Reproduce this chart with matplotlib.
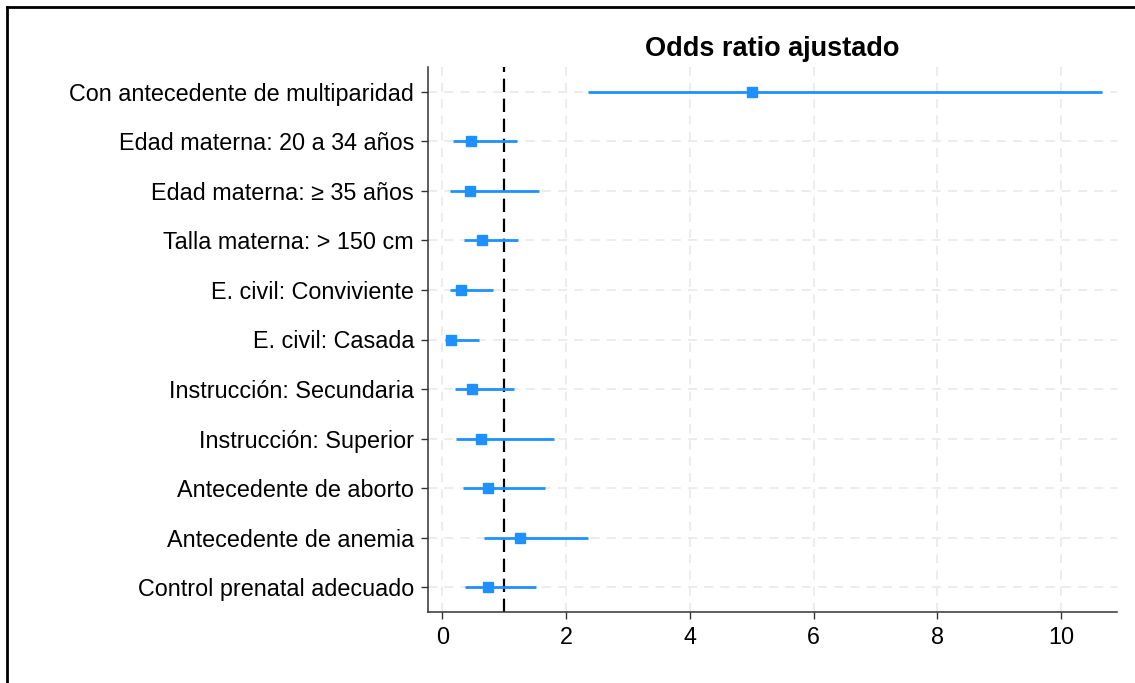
import matplotlib.pyplot as plt
from matplotlib.lines import Line2D

plt.rcParams['font.family'] = ['Liberation Sans', 'DejaVu Sans']

labels = [
    "Con antecedente de multiparidad",
    "Edad materna: 20 a 34 años",
    "Edad materna: ≥ 35 años",
    "Talla materna: > 150 cm",
    "E. civil: Conviviente",
    "E. civil: Casada",
    "Instrucción: Secundaria",
    "Instrucción: Superior",
    "Antecedente de aborto",
    "Antecedente de anemia",
    "Control prenatal adecuado",
]
odds = [5.01, 0.46, 0.45, 0.65, 0.31, 0.14, 0.48, 0.62, 0.74, 1.25, 0.74]
ci_low = [2.36, 0.18, 0.13, 0.35, 0.12, 0.05, 0.21, 0.22, 0.34, 0.67, 0.37]
ci_high = [10.66, 1.21, 1.56, 1.23, 0.82, 0.60, 1.16, 1.80, 1.66, 2.36, 1.51]
xticks = [0, 2, 4, 6, 8, 10]

blue = '#1E90FF'

fig = plt.figure(figsize=(11.35, 6.83), dpi=100)
ax = fig.add_axes([428 / 1135, 1 - 612 / 683, (1117 - 428) / 1135, (612 - 67) / 683])

ypos = list(range(len(labels)))
ax.hlines(ypos, ci_low, ci_high, color=blue, lw=2, zorder=3)
ax.plot(odds, ypos, 's', color=blue, ms=7.5, zorder=4)
ax.axvline(1, color='black', ls=(0, (6, 3)), lw=1.6, zorder=2)

ax.set_xlim(-0.23, 10.9)
ax.set_ylim(len(labels) - 0.5, -0.5)
ax.set_yticks(ypos)
ax.set_yticklabels(labels, fontsize=16.8)
ax.set_xticks(xticks)
ax.set_xticklabels([str(t) for t in xticks], fontsize=16.8)
ax.tick_params(axis='both', length=5, width=1, color='#333333', pad=5)

ax.grid(True, color='#ebebeb', ls=(0, (5, 4)), lw=1.3, zorder=0)
ax.set_axisbelow(True)
for side in ['top', 'right']:
    ax.spines[side].set_visible(False)
for side in ['left', 'bottom']:
    ax.spines[side].set_color('#333333')
    ax.spines[side].set_linewidth(1.1)

ax.set_title("Odds ratio ajustado", fontsize=19.5, fontweight='bold', pad=8)

# frame around the figure (top and left edges visible)
fig.add_artist(Line2D([7 / 1135, 1.01], [1 - 7 / 683, 1 - 7 / 683],
                      transform=fig.transFigure, color='black', lw=2))
fig.add_artist(Line2D([7 / 1135, 7 / 1135], [-0.01, 1 - 7 / 683],
                      transform=fig.transFigure, color='black', lw=2))

fig.savefig('out.png', dpi=100, facecolor='white')
